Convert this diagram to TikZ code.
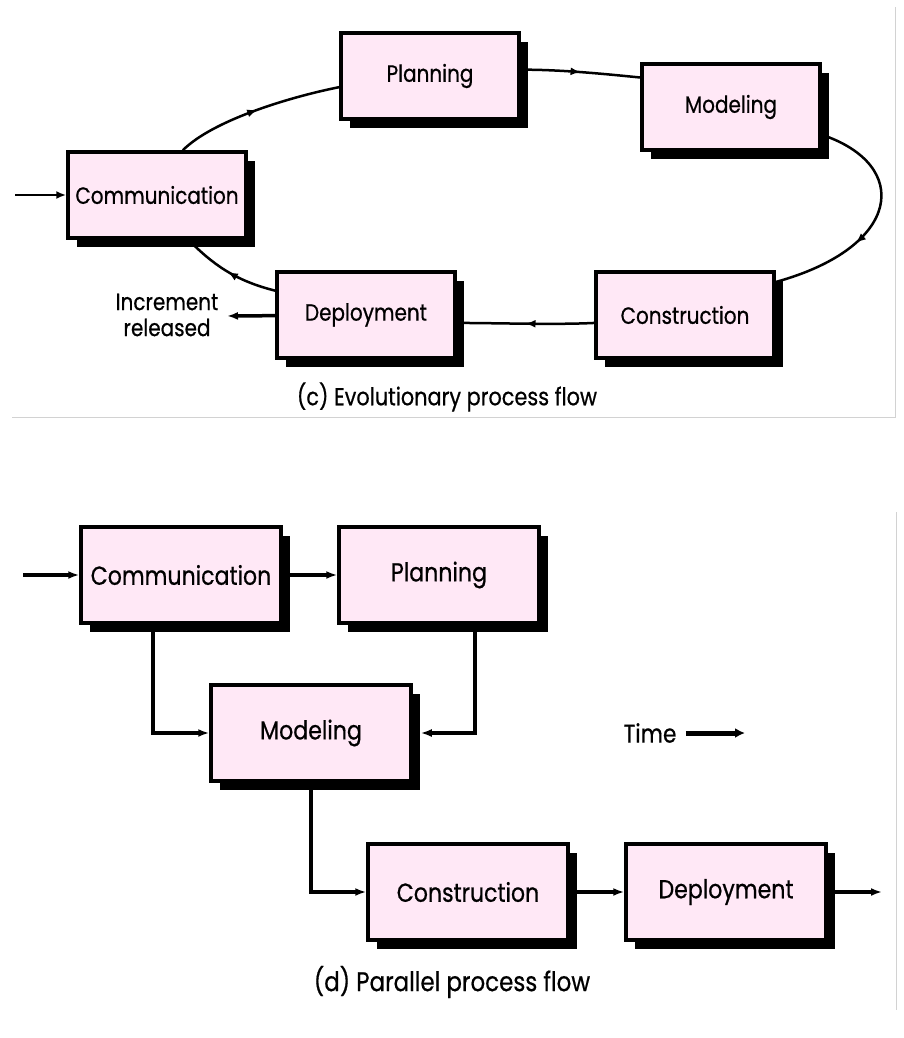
\documentclass[tikz,border=0pt]{standalone}
\usepackage{fontspec}
\setmainfont{Poppins}[FakeStretch=0.85, FakeBold=0.6]
\usetikzlibrary{shadows,decorations.markings,calc,arrows.meta}
\definecolor{stagepink}{RGB}{255,232,246}
\tikzset{
  stage/.style={draw=black, line width=3.5pt, fill=stagepink,
    minimum width=178pt, minimum height=86pt, inner sep=2pt,
    font=\fontsize{23.5}{26}\selectfont,
    drop shadow={shadow xshift=9pt, shadow yshift=-9pt, fill=black, opacity=1}},
  bigstage/.style={stage, minimum width=200pt, minimum height=96pt,
    font=\fontsize{26}{28}\selectfont},
  loopline/.style={line width=2.5pt, postaction={decorate},
    decoration={markings, mark=at position #1 with {\arrow{Latex[length=10pt,width=8pt]}}}},
  loopline/.default=0.5,
  flow/.style={line width=3.5pt, -{Latex[length=11pt,width=8pt]}},
  caption/.style={font=\fontsize{24.5}{26}\selectfont}
}
\begin{document}
\begin{tikzpicture}[x=1pt,y=-1pt]
  \useasboundingbox (0,0) rectangle (904,1038);
  % frame lines
  \draw[gray!35, line width=1pt] (12,417) -- (895,417) -- (895,7);
  \draw[gray!35, line width=1pt] (896,512) -- (896,1010);

  % (c) evolutionary flow
  \node[stage] (comm) at (157,195) {Communication};
  \node[stage] (plan) at (430,76) {Planning};
  \node[stage] (model) at (731,107) {Modeling};
  \node[stage] (constr) at (685,315) {Construction};
  \node[stage] (deploy) at (366,315) {Deployment};

  \draw[loopline] (comm.60) .. controls +(30,-30) and +(-50,10) .. (plan.187);
  \draw[loopline] (plan.4) .. controls +(40,0) and +(-40,-4) .. (model.162);
  \draw[loopline=0.62] (model.-17) .. controls +(90,30) and +(127,-35) .. (constr.20);
  \draw[loopline] (constr.185) .. controls +(-40,2) and +(40,0) .. (deploy.355);
  \draw[loopline] (deploy.165) .. controls +(-40,-10) and +(25,25) .. (comm.-55);

  \coordinate (in) at (15,195);
  \draw[line width=2.5pt, -{Latex[length=10pt,width=8pt]}] (in) -- (comm);
  \coordinate (out) at (227,316);
  \draw[flow] (deploy) -- (out);
  \node[align=center, font=\fontsize{23.5}{26}\selectfont] (incr) at (167,315) {Increment\\released};
  \node[caption] (capc) at (447,397) {(c) Evolutionary process flow};

  % (d) parallel flow
  \node[bigstage] (comm2) at (181,575) {Communication};
  \node[bigstage] (plan2) at (439,575) {Planning};
  \node[bigstage] (model2) at (311,733) {Modeling};
  \node[bigstage] (constr2) at (468,892) {Construction};
  \node[bigstage] (deploy2) at (726,892) {Deployment};

  \coordinate (in2) at (23,575);
  \draw[flow] (in2) -- (comm2);
  \draw[flow] (comm2) -- (plan2);
  \draw[flow] ([xshift=-28pt]comm2.south) |- (model2.west);
  \draw[flow] ([xshift=36pt]plan2.south) |- ([xshift=8pt]model2.east);
  \draw[flow] (model2.south) |- (constr2.west);
  \draw[flow] (constr2) -- (deploy2);
  \coordinate (out2) at (882,892);
  \draw[flow] (deploy2) -- (out2);

  \node[font=\fontsize{25.5}{28}\selectfont] (time) at (650,733) {Time};
  \coordinate (timeend) at (745,733);
  \draw[line width=5pt, -{Latex[length=10pt,width=10pt]}] ([xshift=6pt]time.east) -- (timeend);
  \node[font=\fontsize{27}{29}\selectfont] (capd) at (452,982) {(d) Parallel process flow};
\end{tikzpicture}
\end{document}
